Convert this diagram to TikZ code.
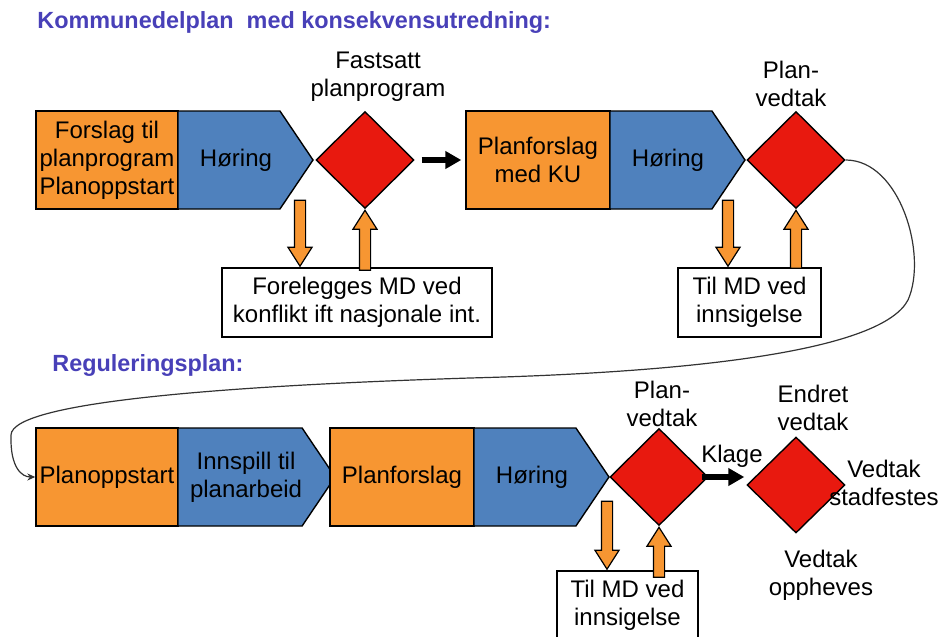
\documentclass[tikz,border=0pt]{standalone}
\usepackage{fontspec}
\setmainfont{Liberation Sans}
\usetikzlibrary{shapes.geometric,shapes.symbols,shapes.arrows,arrows.meta,positioning}

\definecolor{fasefarge}{RGB}{247,150,50}
\definecolor{hoeringfarge}{RGB}{79,129,189}
\definecolor{vedtakfarge}{RGB}{232,25,15}
\definecolor{tittelfarge}{RGB}{72,64,184}

\tikzset{
  fase/.style={draw, fill=fasefarge, line width=0.7pt, minimum width=71pt, minimum height=49pt, inner sep=0pt, align=center},
  hoer/.style={draw, fill=hoeringfarge, line width=0.7pt, signal, signal from=nowhere, signal to=east, signal pointer angle=112, minimum height=49pt, inner sep=0pt, align=center},
  beslutt/.style={draw, fill=vedtakfarge, line width=0.7pt, diamond, minimum width=49pt, minimum height=48.5pt, inner sep=0pt},
  merknad/.style={draw, fill=white, line width=0.7pt, minimum height=34.5pt, inner sep=0pt, align=center},
  tekst/.style={inner sep=0pt, align=center},
  tittel/.style={inner sep=0pt, text=tittelfarge, font=\fontsize{11.7}{14}\selectfont\bfseries},
  blokkpil/.style={draw, fill=fasefarge, line width=0.6pt, single arrow, inner sep=2.5pt, single arrow head extend=3.25pt, single arrow tip angle=65},
  pil/.style={line width=3pt, -{Triangle[length=8pt,width=8.5pt]}},
  kurve/.style={line width=0.6pt, draw=black!80, -{Stealth[length=4pt,width=3.5pt]}}
}

\begin{document}
\begin{tikzpicture}[x=0.5pt, y=-0.5pt, font=\fontsize{12}{14}\selectfont]
  \useasboundingbox (0,0) rectangle (944,637);
  \clip (0,0) rectangle (944,637);

  % kommunedelplan
  \node[tittel, anchor=west] (tittel1) at (37,23) {Kommunedelplan\ \ med konsekvensutredning:};

  \node[fase] (forslag) at (107,160) {Forslag til\\planprogram\\Planoppstart};
  \node[hoer, minimum width=67.5pt, right=-0.7pt of forslag] (hoering1) {\hspace{7pt}Høring};
  \node[beslutt] (fastsatt) at (365,160) {};
  \node[tekst] (fastsattlabel) at (378,77) {Fastsatt\\planprogram};

  \node[fase, minimum width=72pt] (planforslag1) at (538,160) {Planforslag\\med KU};
  \node[hoer, minimum width=67.5pt, right=-0.7pt of planforslag1] (hoering2) {\hspace{7pt}Høring};
  \node[beslutt] (vedtak1) at (796,160) {};
  \node[tekst] (vedtaklabel1) at (791,84) {Plan-\\vedtak};

  \draw[pil] ([xshift=3.5pt]fastsatt.east) -- ([xshift=-2pt]planforslag1.west);

  \node[merknad, minimum width=135pt] (forelegges) at (357,302.5) {Forelegges MD ved\\konflikt ift nasjonale int.};
  \node[merknad, minimum width=71.5pt] (innsigelse1) at (749.5,302.5) {Til MD ved\\innsigelse};

  \node[blokkpil, rotate=-90, anchor=tip, minimum height=33pt] (ned1) at ([xshift=-28.5pt]forelegges.north) {};
  \node[blokkpil, rotate=90, anchor=tip, minimum height=30pt] (opp1) at (fastsatt.south) {};
  \node[blokkpil, rotate=-90, anchor=tip, minimum height=33pt] (ned2) at ([xshift=-10.75pt]innsigelse1.north) {};
  \node[blokkpil, rotate=90, anchor=tip, minimum height=29pt] (opp2) at (vedtak1.south) {};

  % reguleringsplan
  \node[tittel, anchor=west] (tittel2) at (52,365) {Reguleringsplan:};

  \node[fase] (planoppstart) at (107,477) {Planoppstart};
  \node[hoer, minimum width=75pt, right=-0.7pt of planoppstart] (innspill) {\hspace{6pt}Innspill til\\\hspace{6pt}planarbeid};
  \node[fase, minimum width=72pt] (planforslag2) at (402,477) {Planforslag};
  \node[hoer, minimum width=67.5pt, right=-0.7pt of planforslag2] (hoering3) {\hspace{7pt}Høring};
  \node[beslutt] (vedtak2) at (659,477) {};
  \node[tekst] (vedtaklabel2) at (662,404) {Plan-\\vedtak};

  \node[beslutt, minimum height=48pt] (klagevedtak) at (796,485) {};
  \draw[pil] ([xshift=-3.5pt]vedtak2.east) -- ([xshift=-1pt,yshift=4pt]klagevedtak.west);
  \node[tekst] (klage) at (732,456) {Klage};
  \node[tekst] (endret) at (813,408) {Endret\\vedtak};
  \node[tekst] (stadfestes) at (884,483) {Vedtak\\stadfestes};
  \node[tekst] (oppheves) at (821,575) {Vedtak\\oppheves};

  \node[merknad, minimum width=70.5pt] (innsigelse2) at (627.5,605.5) {Til MD ved\\innsigelse};
  \node[blokkpil, rotate=-90, anchor=tip, minimum height=34pt] (ned3) at ([xshift=-10.25pt]innsigelse2.north) {};
  \node[blokkpil, rotate=90, anchor=tip, minimum height=25pt] (opp3) at (vedtak2.south) {};

  % videre til reguleringsplan
  \draw[kurve] (vedtak1.east) .. controls (900,160) and (928,255) .. (908,300)
    .. controls (882,350) and (700,372) .. (470,378)
    .. controls (250,385) and (12,400) .. (11,435)
    .. controls (10,468) and (22,477) .. (planoppstart.west);
\end{tikzpicture}
\end{document}
